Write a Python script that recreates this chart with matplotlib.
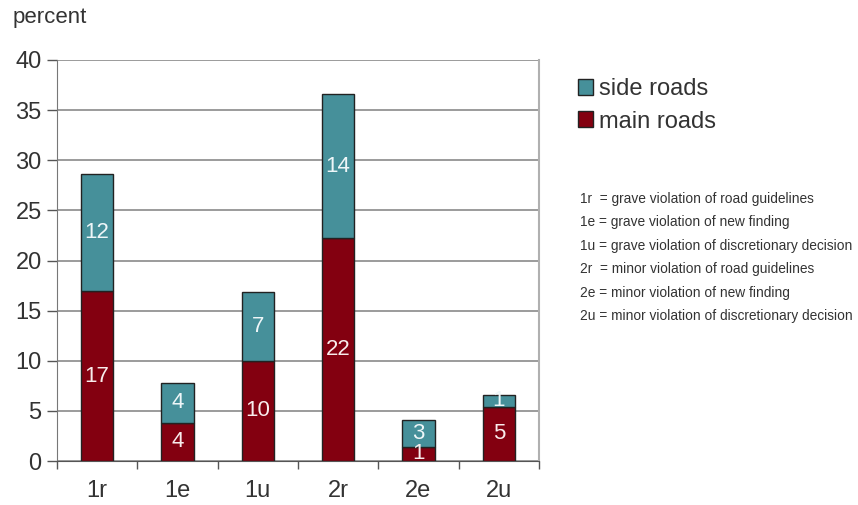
import numpy as np
import matplotlib.pyplot as plt
from matplotlib.patches import Patch

plt.rcParams['font.family'] = ['Liberation Sans', 'DejaVu Sans']

# categorias y porcentajes por tipo de calle
categorias = ["1r", "1e", "1u", "2r", "2e", "2u"]
calles_principales = [16.95, 3.8, 10.0, 22.2, 1.4, 5.4]
calles_laterales = [11.65, 4.0, 6.85, 14.4, 2.7, 1.2]

definiciones = [
    "1r  = grave violation of road guidelines",
    "1e = grave violation of new finding",
    "1u = grave violation of discretionary decision",
    "2r  = minor violation of road guidelines",
    "2e = minor violation of new finding",
    "2u = minor violation of discretionary decision",
]

color_lateral = "#46909a"
color_principal = "#830010"
color_texto = "#333333"

fig = plt.figure(figsize=(8.58, 5.05), dpi=100)
ax = fig.add_axes([57/858, 1-461/505, (539-57)/858, (461-60)/505])

x = np.arange(len(categorias))
ancho = 0.4
barras_p = ax.bar(x, calles_principales, ancho, color=color_principal,
                  edgecolor="#222222", linewidth=1, zorder=3)
barras_l = ax.bar(x, calles_laterales, ancho, bottom=calles_principales,
                  color=color_lateral, edgecolor="#222222", linewidth=1, zorder=3)

# etiquetas con el valor de cada segmento
for i in range(len(categorias)):
    p = calles_principales[i]
    l = calles_laterales[i]
    ax.text(x[i], p/2, f"{p:.0f}", ha="center", va="center",
            color="#f8ecec", fontsize=16, zorder=4)
    ax.text(x[i], p + l/2, f"{l:.0f}", ha="center", va="center",
            color="#eef6f8", fontsize=16, zorder=4)

ax.set_xlim(-0.5, 5.5)
ax.set_ylim(0, 40)
ax.set_yticks(np.arange(0, 41, 5))
ax.set_xticks(x)
ax.set_xticklabels(categorias)
ax.set_xticks(np.arange(-0.5, 6, 1), minor=True)
ax.tick_params(axis="x", which="major", length=0, pad=14,
               labelsize=17, labelcolor=color_texto)
ax.tick_params(axis="x", which="minor", length=6, width=1, color="#555555")
ax.tick_params(axis="y", length=7, width=1, color="#555555", pad=4,
               labelsize=17, labelcolor=color_texto)

ax.grid(axis="y", color="#8a8a8a", linewidth=1.2, zorder=0)
ax.set_axisbelow(True)
ax.spines["top"].set_visible(False)
ax.spines["left"].set_color("#777777")
ax.spines["bottom"].set_color("#555555")
ax.spines["right"].set_color("#b0b0b0")
ax.spines["right"].set_linewidth(1.5)

fig.text(13/858, 1-18/505, "percent", ha="left", va="center",
         fontsize=16, color=color_texto)

handles = [Patch(facecolor=color_lateral, edgecolor="#222222", label="side roads"),
           Patch(facecolor=color_principal, edgecolor="#222222", label="main roads")]
fig.legend(handles=handles, loc="upper left", bbox_to_anchor=(578/858, 1-78/505),
           frameon=False, fontsize=17, handlelength=0.65, handleheight=0.65,
           handletextpad=0.25, labelspacing=0.45, labelcolor=color_texto,
           borderpad=0, borderaxespad=0)

for k, linea in enumerate(definiciones):
    fig.text(580/858, 1-(199 + k*23.4)/505, linea, ha="left", va="center",
             fontsize=9.9, color=color_texto)

fig.savefig("out.png", dpi=100)
